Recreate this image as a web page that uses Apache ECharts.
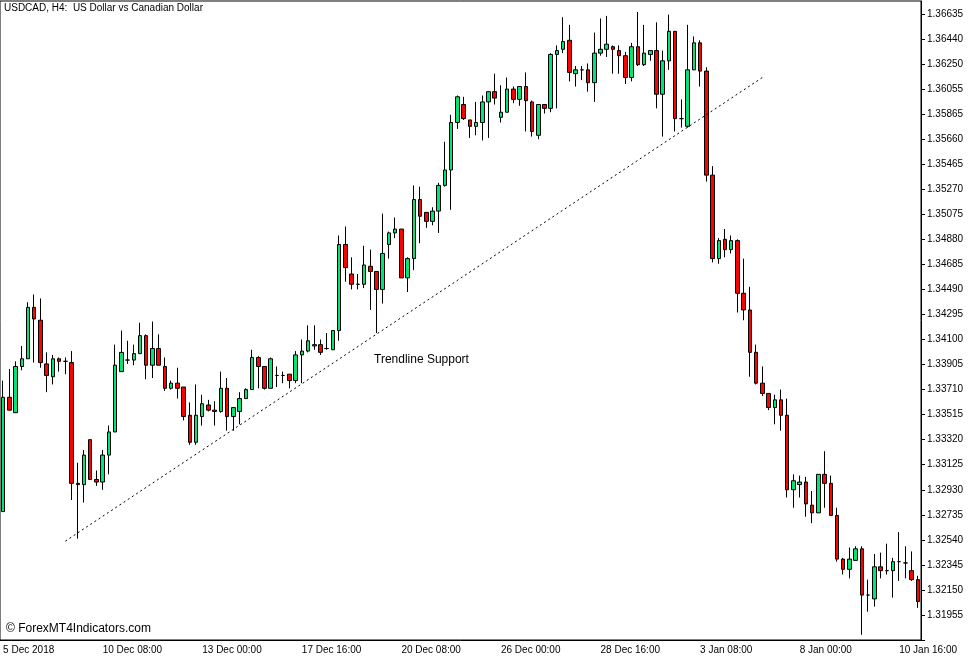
<!DOCTYPE html>
<html><head><meta charset="utf-8">
<script src="https://cdn.jsdelivr.net/npm/echarts@6/dist/echarts.min.js"></script>
<style>html,body{margin:0;padding:0;background:#fff}#c{width:977px;height:658px}</style>
</head><body><div id="c"></div>
<script>
const title = 'USDCAD, H4:  US Dollar vs Canadian Dollar';
const credit = '© ForexMT4Indicators.com';
const note = 'Trendline Support';
const timeLabels = ['5 Dec 2018','10 Dec 08:00','13 Dec 00:00','17 Dec 16:00','20 Dec 08:00','26 Dec 00:00','28 Dec 16:00','3 Jan 08:00','8 Jan 00:00','10 Jan 16:00'];
const priceLabels = ['1.31955','1.32150','1.32345','1.32540','1.32735','1.32930','1.33125','1.33320','1.33515','1.33710','1.33905','1.34100','1.34295','1.34490','1.34685','1.34880','1.35075','1.35270','1.35465','1.35660','1.35865','1.36055','1.36250','1.36440','1.36635'];
// [open, close, low, high]
const candlesA = [
[1.3276,1.3365,1.3276,1.3378],[1.3365,1.3355,1.3355,1.3387],[1.3353,1.3389,1.3353,1.3393],[1.3389,1.3395,1.3386,1.3405],
[1.3395,1.3435,1.3395,1.3439],[1.3435,1.3426,1.3392,1.3445],[1.3425,1.3392,1.3388,1.3442],[1.3391,1.3382,1.3369,1.3400],
[1.3381,1.3395,1.3375,1.3398],[1.3395,1.3393,1.3385,1.3396],[1.3393,1.3393,1.3383,1.3396],[1.3392,1.3298,1.3285,1.3401],
[1.3298,1.3297,1.3255,1.3314],[1.3297,1.3320,1.3283,1.3324],[1.3332,1.3301,1.3301,1.3332],[1.3301,1.3299,1.3296,1.3308],
[1.3299,1.3320,1.3293,1.3324],[1.3320,1.3338,1.3305,1.3343],[1.3338,1.3390,1.3338,1.3406],[1.3385,1.3400,1.3385,1.3417],
[1.3394,1.3394,1.3391,1.3409],[1.3394,1.3399,1.3390,1.3406],[1.3399,1.3413,1.3399,1.3423],[1.3413,1.3390,1.3379,1.3414],
[1.3390,1.3403,1.3380,1.3424],[1.3403,1.3390,1.3390,1.3414],[1.3389,1.3372,1.3370,1.3396],[1.3372,1.3376,1.3371,1.3378],
[1.3376,1.3372,1.3364,1.3388],[1.3373,1.3350,1.3347,1.3373],[1.3351,1.3330,1.3328,1.3361],[1.3330,1.3351,1.3328,1.3375],
[1.3350,1.3360,1.3343,1.3367],[1.3359,1.3355,1.3354,1.3363],[1.3355,1.3354,1.3343,1.3362],[1.3354,1.3372,1.3353,1.3385],
[1.3372,1.3350,1.3339,1.3380]];
const candlesB = [
[1.3350,1.3357,1.3339,1.3357],[1.3354,1.3364,1.3344,1.3369],[1.3364,1.3371,1.3364,1.3372],[1.3371,1.3396,1.3371,1.3402],
[1.3396,1.3389,1.3372,1.3397],[1.3389,1.3372,1.3371,1.3389],[1.3372,1.3395,1.3372,1.3396],[1.3382,1.3382,1.3373,1.3389],
[1.3382,1.3382,1.3376,1.3385],[1.3383,1.3378,1.3372,1.3383],[1.3378,1.3398,1.3376,1.3401],[1.3398,1.3401,1.3376,1.3410],
[1.3401,1.3409,1.3400,1.3421],[1.3405,1.3406,1.3402,1.3421],[1.3406,1.3400,1.3398,1.3410],[1.3403,1.3403,1.3402,1.3415],
[1.3402,1.3417,1.3402,1.3417],[1.3417,1.3484,1.3409,1.3491],[1.3484,1.3466,1.3455,1.3498],[1.3461,1.3453,1.3449,1.3474],
[1.3453,1.3453,1.3449,1.3461],[1.3453,1.3468,1.3450,1.3483],[1.3467,1.3463,1.3433,1.3480],[1.3463,1.3449,1.3415,1.3463],
[1.3449,1.3477,1.3438,1.3508],[1.3484,1.3493,1.3473,1.3494],[1.3493,1.3496,1.3489,1.3505],[1.3496,1.3458,1.3458,1.3496],
[1.3458,1.3473,1.3447,1.3474],[1.3473,1.3519,1.3464,1.3530],[1.3519,1.3506,1.3485,1.3529],[1.3509,1.3502,1.3497,1.3509],
[1.3502,1.3510,1.3499,1.3513],[1.3510,1.3530,1.3493,1.3532],[1.3530,1.3542,1.3529,1.3564],[1.3542,1.3579,1.3511,1.3585],
[1.3579,1.3599,1.3574,1.3600]];
const candlesC = [
[1.3593,1.3582,1.3581,1.3599],[1.3581,1.3576,1.3567,1.3581],[1.3576,1.3579,1.3569,1.3595],[1.3579,1.3595,1.3565,1.3600],
[1.3595,1.3603,1.3567,1.3603],[1.3603,1.3598,1.3593,1.3617],[1.3583,1.3587,1.3579,1.3608],[1.3587,1.3605,1.3587,1.3614],
[1.3605,1.3597,1.3594,1.3607],[1.3597,1.3607,1.3592,1.3607],[1.3607,1.3596,1.3572,1.3618],[1.3595,1.3572,1.3568,1.3596],
[1.3569,1.3593,1.3566,1.3593],[1.3593,1.3590,1.3586,1.3593],[1.3590,1.3632,1.3587,1.3633],[1.3632,1.3635,1.3590,1.3639],
[1.3636,1.3642,1.3633,1.3661],[1.3643,1.3618,1.3611,1.3655],[1.3617,1.3620,1.3607,1.3623],[1.3620,1.3620,1.3612,1.3623],
[1.3620,1.3610,1.3603,1.3625],[1.3610,1.3633,1.3595,1.3649],[1.3633,1.3636,1.3631,1.3660],[1.3636,1.3640,1.3630,1.3662],
[1.3638,1.3636,1.3617,1.3639],[1.3635,1.3631,1.3617,1.3639],[1.3631,1.3614,1.3609,1.3634],[1.3614,1.3638,1.3611,1.3641],
[1.3638,1.3624,1.3623,1.3665],[1.3624,1.3633,1.3623,1.3655],[1.3632,1.3635,1.3627,1.3635],[1.3635,1.3601,1.3590,1.3657],
[1.3601,1.3627,1.3568,1.3635],[1.3627,1.3650,1.3620,1.3663],[1.3650,1.3582,1.3572,1.3650],[1.3582,1.3582,1.3575,1.3597],
[1.3576,1.3620,1.3575,1.3655]];
const candlesD = [
[1.3620,1.3641,1.3620,1.3646],[1.3641,1.3619,1.3607,1.3643],[1.3619,1.3538,1.3533,1.3622],[1.3538,1.3473,1.3470,1.3545],
[1.3473,1.3487,1.3469,1.3489],[1.3488,1.3480,1.3474,1.3496],[1.3480,1.3487,1.3477,1.3491],[1.3487,1.3446,1.3431,1.3488],
[1.3446,1.3433,1.3425,1.3473],[1.3433,1.3400,1.3381,1.3451],[1.3400,1.3376,1.3375,1.3406],[1.3376,1.3368,1.3366,1.3389],
[1.3368,1.3357,1.3355,1.3368],[1.3357,1.3363,1.3344,1.3367],[1.3363,1.3351,1.3339,1.3371],[1.3351,1.3293,1.3287,1.3364],
[1.3293,1.3300,1.3279,1.3305],[1.3297,1.3299,1.3287,1.3304],[1.3299,1.3282,1.3272,1.3303],[1.3281,1.3275,1.3267,1.3292],
[1.3275,1.3305,1.3275,1.3305],[1.3305,1.3298,1.3279,1.3323],[1.3298,1.3273,1.3273,1.3304],[1.3273,1.3239,1.3237,1.3279],
[1.3239,1.3231,1.3227,1.3240],[1.3231,1.3239,1.3224,1.3248],[1.3238,1.3247,1.3238,1.3249],[1.3247,1.3211,1.3180,1.3249],
[1.3211,1.3211,1.3198,1.3223],[1.3208,1.3233,1.3202,1.3243],[1.3233,1.3230,1.3224,1.3244],[1.3230,1.3230,1.3227,1.3251],
[1.3230,1.3237,1.3209,1.3240],[1.3237,1.3237,1.3222,1.3260],[1.3236,1.3236,1.3224,1.3249],[1.3230,1.3223,1.3222,1.3245],
[1.3223,1.3206,1.3201,1.3226]];
const trendStart = [10, 1.3253];
const trendEnd = [122, 1.3614];

const candles = candlesA.concat(candlesB, candlesC, candlesD);
const categories = candles.map((_, i) => String(i));
const labelStep = 16;
const tickStep = 0.00195;
const yMin = 1.31760, yMax = 1.36736;

const chart = echarts.init(document.getElementById('c'));
chart.setOption({
  animation: false,
  backgroundColor: '#fff',
  textStyle: { fontFamily: 'Liberation Sans, Arial, sans-serif' },
  grid: { left: -1, right: 56, top: 1, bottom: 18, show: true, borderColor: '#000', borderWidth: 1 },
  xAxis: {
    type: 'category', data: categories, boundaryGap: true,
    axisLine: { lineStyle: { color: '#000' } },
    axisTick: { alignWithLabel: true, interval: (i) => i % labelStep === 0, length: 4, lineStyle: { color: '#000' } },
    axisLabel: {
      interval: (i) => i % labelStep === 0, align: 'left', margin: 5,
      color: '#000', fontSize: 10,
      formatter: (v, i) => timeLabels[Math.round(i / labelStep)] || ''
    },
    splitLine: { show: false }
  },
  yAxis: {
    type: 'value', position: 'right', min: yMin, max: yMax, interval: tickStep, scale: true,
    axisLine: { show: true, lineStyle: { color: '#000' } },
    axisTick: { show: true, length: 4, inside: false, lineStyle: { color: '#000' } },
    axisLabel: {
      color: '#000', fontSize: 10, margin: 6, showMaxLabel: false,
      formatter: (v) => {
        const k = Math.round((v - 1.31955) / tickStep);
        return k >= 0 && k < priceLabels.length ? priceLabels[k] : '';
      }
    },
    splitLine: { show: false }
  },
  series: [{
    type: 'candlestick', data: candles, barWidth: 4,
    itemStyle: { color: '#00e676', color0: '#ff0000', borderColor: '#000', borderColor0: '#000', borderWidth: 1 },
    markLine: {
      silent: true, symbol: 'none', label: { show: false },
      lineStyle: { color: '#000', type: [2, 3], width: 1 },
      data: [[{ coord: trendStart }, { coord: trendEnd }]]
    }
  }],
  graphic: [
    { type: 'text', left: 4, top: 3, style: { text: title, fill: '#000', font: '10px Liberation Sans, Arial' } },
    { type: 'text', left: 6, top: 623, style: { text: credit, fill: '#000', font: '12px Liberation Sans, Arial' } },
    { type: 'text', left: 374, top: 354, style: { text: note, fill: '#000', font: '12px Liberation Sans, Arial' } }
  ]
});
</script></body></html>
